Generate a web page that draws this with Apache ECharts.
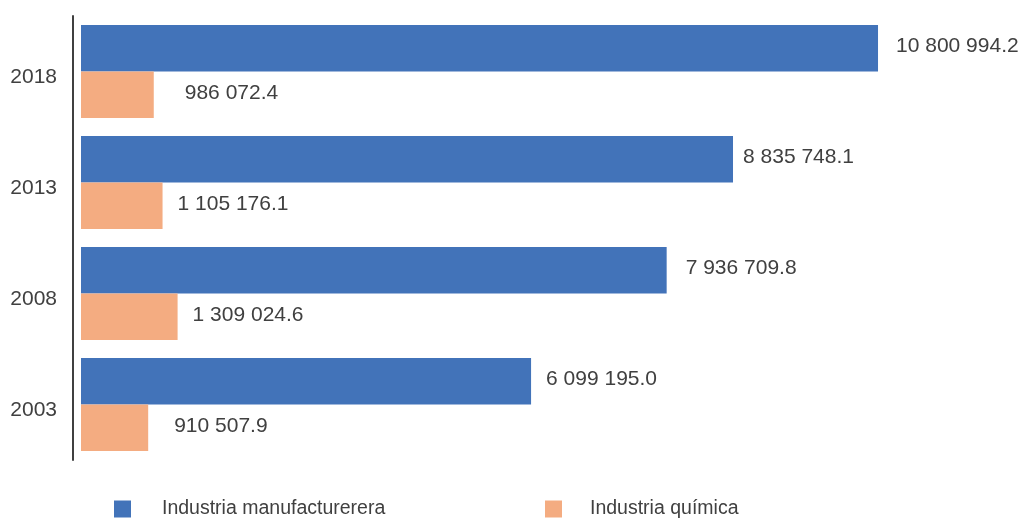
<!DOCTYPE html>
<html>
<head>
<meta charset="utf-8">
<script src="https://cdn.jsdelivr.net/npm/echarts@6/dist/echarts.min.js"></script>
<style>
html,body{margin:0;padding:0;background:#fff;}
#chart{width:1021px;height:519px;}
</style>
</head>
<body>
<div id="chart"></div>
<script>
// Data
const years = ['2003', '2008', '2013', '2018'];
const manufacturera = [6099195.0, 7936709.8, 8835748.1, 10800994.2];
const quimica = [910507.9, 1309024.6, 1105176.1, 986072.4];
const seriesNames = ['Industria manufacturerera', 'Industria química'];

// Label gaps (presentation only)
const gapManuf = [15, 19, 10, 18];
const gapQuim = [26, 15, 15, 31];

function fmt(v) {
  const s = v.toFixed(1);
  const parts = s.split('.');
  const int = parts[0].replace(/\B(?=(\d{3})+(?!\d))/g, ' ');
  return int + '.' + parts[1];
}

const FONT = '"Liberation Sans", Arial, sans-serif';
const TXT = '#404040';

function build(values, gaps) {
  return values.map((v, i) => ({
    value: v,
    label: { distance: gaps[i] }
  }));
}

const chart = echarts.init(document.getElementById('chart'), null, { renderer: 'canvas' });
chart.setOption({
  animation: false,
  backgroundColor: '#ffffff',
  grid: { left: 81, top: 16, height: 444, width: 885.5, containLabel: false },
  xAxis: {
    type: 'value', min: 0, max: 12000000, show: false
  },
  yAxis: {
    type: 'category',
    data: years,
    offset: 8,
    axisLine: { show: true, onZero: false, lineStyle: { color: '#404040', width: 2 } },
    axisTick: { show: false },
    axisLabel: { margin: 16, color: TXT, formatter: '{y|{value}}',
      rich: { y: { fontSize: 21, color: TXT, fontFamily: FONT, padding: [12, 0, 0, 0] } } },
    splitLine: { show: false }
  },
  legend: [
    {
      data: [seriesNames[0]], left: 114, top: 499, icon: 'rect', padding: 0,
      itemWidth: 17, itemHeight: 17,
      textStyle: { fontSize: 19.5, color: TXT, fontFamily: FONT, padding: [0, 0, 0, 26] }
    },
    {
      data: [seriesNames[1]], left: 545, top: 499, icon: 'rect', padding: 0,
      itemWidth: 17, itemHeight: 17,
      textStyle: { fontSize: 19.5, color: TXT, fontFamily: FONT, padding: [0, 0, 0, 23] }
    }
  ],
  series: [
    {
      name: seriesNames[0], type: 'bar', barWidth: 46.5, barGap: '0%',
      itemStyle: { color: '#4273B9' },
      label: { show: true, position: 'right', fontSize: 21, color: TXT, fontFamily: FONT,
               offset: [0, -2], formatter: p => fmt(p.value) },
      data: build(manufacturera, gapManuf)
    },
    {
      name: seriesNames[1], type: 'bar', barWidth: 46.5, barGap: '0%',
      itemStyle: { color: '#F4AC81' },
      label: { show: true, position: 'right', fontSize: 21, color: TXT, fontFamily: FONT,
               offset: [0, -2], formatter: p => fmt(p.value) },
      data: build(quimica, gapQuim)
    }
  ]
});
</script>
</body>
</html>
